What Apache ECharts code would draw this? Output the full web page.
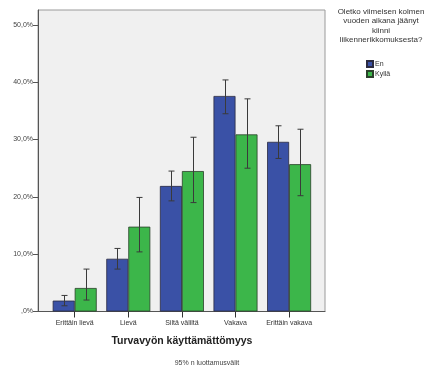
<!DOCTYPE html>
<html>
<head>
<meta charset="utf-8">
<script src="https://cdn.jsdelivr.net/npm/echarts@6/dist/echarts.min.js"></script>
<style>html,body{margin:0;padding:0;background:#fff}#c{width:431px;height:367px}</style>
</head>
<body>
<div id="c"></div>
<script>
var categories = ['Erittäin lievä', 'Lievä', 'Siltä väliltä', 'Vakava', 'Erittäin vakava'];
var seriesNames = ['En', 'Kyllä'];
var enValues = [1.9, 9.2, 21.9, 37.6, 29.6];
var enLow = [1.0, 7.4, 19.3, 34.5, 26.7];
var enHigh = [2.8, 11.0, 24.5, 40.4, 32.4];
var kyllaValues = [4.1, 14.8, 24.5, 30.9, 25.7];
var kyllaLow = [2.0, 10.4, 19.0, 25.0, 20.2];
var kyllaHigh = [7.4, 19.9, 30.4, 37.1, 31.8];
var yTicks = [0, 10, 20, 30, 40, 50];
var legendTitle = 'Oletko viimeisen kolmen\nvuoden aikana jäänyt\nkiinni\nliikennerikkomuksesta?';
var xTitle = 'Turvavyön käyttämättömyys';
var footnote = '95% n luottamusvälit';

var FONT = '"Liberation Sans", Arial, sans-serif';
var BAR_W = 22;
var yMax = 52.6;

function errSeries(name, low, high, dir) {
  return {
    type: 'custom', name: name + '_err', xAxisIndex: 1, yAxisIndex: 1, z: 5,
    data: categories.map(function (c, i) { return [i, low[i], high[i]]; }),
    renderItem: function (params, api) {
      var lo = api.coord([api.value(0), api.value(1)]);
      var hi = api.coord([api.value(0), api.value(2)]);
      var x = Math.round(lo[0] + dir * BAR_W / 2) + 0.5;
      var cap = 3;
      var st = { stroke: '#3a3a3a', lineWidth: 1 };
      return { type: 'group', children: [
        { type: 'line', shape: { x1: x, y1: hi[1], x2: x, y2: lo[1] }, style: st },
        { type: 'line', shape: { x1: x - cap, y1: hi[1], x2: x + cap, y2: hi[1] }, style: st },
        { type: 'line', shape: { x1: x - cap, y1: lo[1], x2: x + cap, y2: lo[1] }, style: st }
      ]};
    }
  };
}

var chart = echarts.init(document.getElementById('c'), null, { renderer: 'canvas' });
chart.setOption({
  backgroundColor: '#ffffff',
  animation: false,
  textStyle: { fontFamily: FONT },
  title: [
    { text: legendTitle, left: 376, top: 2, textAlign: 'center',
      textStyle: { fontSize: 8, lineHeight: 9.4, fontWeight: 'normal', color: '#333', fontFamily: FONT, align: 'center' } },
    { text: footnote, left: 202, top: 355, textAlign: 'center',
      textStyle: { fontSize: 7, fontWeight: 'normal', color: '#444', fontFamily: FONT } }
  ],
  legend: {
    orient: 'vertical', left: 361, top: 55, itemWidth: 6, itemHeight: 6, itemGap: 2,
    data: seriesNames, icon: 'rect',
    textStyle: { fontSize: 7, color: '#333', fontFamily: FONT, padding: [0, 0, 0, -3] }
  },
  grid: [
    { left: 38, top: 10, width: 287, height: 301.5, show: true, backgroundColor: '#f0f0f0', borderColor: '#9a9a9a', borderWidth: 1 },
    { left: 47.9, top: 10, width: 268, height: 301.5 }
  ],
  xAxis: [
    { type: 'value', gridIndex: 0, min: 0, max: 1, axisLabel: { show: false }, axisTick: { show: false }, splitLine: { show: false },
      axisLine: { show: true, lineStyle: { color: '#555', width: 1 } } },
    { type: 'category', gridIndex: 1, data: categories,
      axisLine: { show: false },
      axisTick: { show: true, alignWithLabel: true, length: 6, inside: false, lineStyle: { color: '#333' } },
      axisLabel: { fontSize: 7, color: '#333', margin: 8, fontFamily: FONT, interval: 0 },
      name: xTitle, nameLocation: 'middle', nameGap: 24,
      nameTextStyle: { fontSize: 10.5, fontWeight: 'bold', color: '#222', fontFamily: FONT } }
  ],
  yAxis: [
    { type: 'value', gridIndex: 0, min: 0, max: yMax, interval: 10,
      axisLine: { show: true, lineStyle: { color: '#555', width: 1 } },
      axisTick: { show: true, length: 5, lineStyle: { color: '#555' }, customValues: yTicks },
      axisLabel: { fontSize: 7, color: '#444', margin: 5, fontFamily: FONT, customValues: yTicks,
        formatter: function (v) { return v === 0 ? ',0%' : v.toFixed(1).replace('.', ',') + '%'; } },
      splitLine: { show: false } },
    { type: 'value', gridIndex: 1, min: 0, max: yMax, show: false, splitLine: { show: false } }
  ],
  series: [
    { type: 'bar', name: seriesNames[0], xAxisIndex: 1, yAxisIndex: 1, data: enValues, barWidth: BAR_W, barGap: '0%',
      itemStyle: { color: '#3a51a6', borderColor: '#2a2a40', borderWidth: 0.8 } },
    { type: 'bar', name: seriesNames[1], xAxisIndex: 1, yAxisIndex: 1, data: kyllaValues, barWidth: BAR_W, barGap: '0%',
      itemStyle: { color: '#3cb64a', borderColor: '#2a402a', borderWidth: 0.8 } },
    errSeries('En', enLow, enHigh, -1),
    errSeries('Kyllä', kyllaLow, kyllaHigh, 1)
  ]
});
</script>
</body>
</html>
